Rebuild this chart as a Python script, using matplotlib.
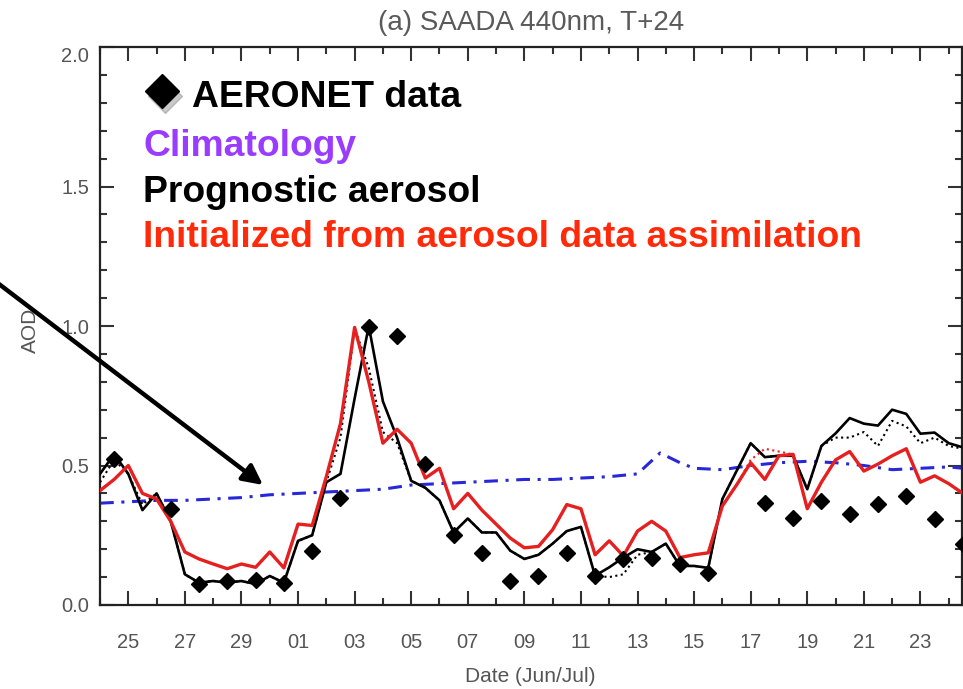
import matplotlib
matplotlib.use("Agg")
import matplotlib.pyplot as plt
from matplotlib.lines import Line2D
from matplotlib.ticker import MultipleLocator, FixedLocator

plt.rcParams['font.family'] = ['Liberation Sans', 'DejaVu Sans']

# ---- data (x in days since 24 Jun 00 UTC) ----
model_days = [0.0, 0.5, 1.0, 1.5, 2.0, 2.5, 3.0, 3.5, 4.0, 4.5, 5.0, 5.5, 6.0, 6.5,
              7.0, 7.5, 8.0, 8.5, 9.0, 9.5, 10.0, 10.5, 11.0, 11.5, 12.0, 12.5,
              13.0, 13.5, 14.0, 14.5, 15.0, 15.5, 16.0, 16.5, 17.0, 17.5, 18.0,
              18.5, 19.0, 19.5, 20.0, 20.5, 21.0, 21.5, 22.0, 22.5, 23.0, 23.5,
              24.0, 24.5, 25.0, 25.5, 26.0, 26.5, 27.0, 27.5, 28.0, 28.5, 29.0,
              29.5, 30.0, 30.5]

initialized = [0.41, 0.45, 0.50, 0.40, 0.38, 0.30, 0.19, 0.165, 0.147, 0.13, 0.147, 0.135,
               0.19, 0.133, 0.29, 0.285, 0.46, 0.65, 0.995, 0.80, 0.58, 0.63, 0.58, 0.455,
               0.49, 0.345, 0.40, 0.34, 0.29, 0.24, 0.205, 0.21, 0.27, 0.36, 0.345, 0.18,
               0.23, 0.176, 0.265, 0.30, 0.265, 0.17, 0.18, 0.187, 0.355, 0.43, 0.51, 0.45,
               0.535, 0.54, 0.345, 0.44, 0.52, 0.55, 0.48, 0.505, 0.535, 0.56, 0.44, 0.463,
               0.435, 0.40]

initialized_dotted = [0.41, 0.45, 0.50, 0.40, 0.38, 0.30, 0.19, 0.165, 0.147, 0.13, 0.147, 0.135,
                      0.19, 0.133, 0.29, 0.285, 0.46, 0.65, 0.99, 0.80, 0.58, 0.63, 0.58, 0.455,
                      0.49, 0.345, 0.40, 0.34, 0.29, 0.24, 0.205, 0.21, 0.27, 0.36, 0.345, 0.18,
                      0.23, 0.176, 0.265, 0.30, 0.265, 0.17, 0.18, 0.187, 0.355, 0.43, 0.52, 0.56,
                      0.55, 0.54, 0.345, 0.44, 0.52, 0.55, 0.48, 0.505, 0.535, 0.56, 0.44, 0.463,
                      0.435, 0.40]

prognostic = [0.47, 0.54, 0.47, 0.34, 0.40, 0.30, 0.11, 0.08, 0.086, 0.08, 0.086, 0.075,
              0.104, 0.08, 0.23, 0.25, 0.44, 0.47, 0.74, 1.00, 0.73, 0.60, 0.445, 0.42,
              0.375, 0.26, 0.31, 0.26, 0.26, 0.195, 0.165, 0.18, 0.22, 0.265, 0.28, 0.105,
              0.135, 0.17, 0.20, 0.19, 0.22, 0.14, 0.14, 0.133, 0.38, 0.48, 0.58, 0.53,
              0.535, 0.535, 0.415, 0.57, 0.615, 0.67, 0.65, 0.643, 0.70, 0.685, 0.614, 0.618,
              0.58, 0.565]

prognostic_dotted = [0.44, 0.52, 0.47, 0.36, 0.40, 0.30, 0.11, 0.08, 0.086, 0.08, 0.086, 0.075,
                     0.104, 0.08, 0.23, 0.25, 0.44, 0.60, 0.99, 0.85, 0.62, 0.58, 0.445, 0.42,
                     0.375, 0.26, 0.31, 0.26, 0.26, 0.195, 0.165, 0.18, 0.22, 0.265, 0.28, 0.105,
                     0.10, 0.11, 0.18, 0.19, 0.22, 0.14, 0.14, 0.133, 0.38, 0.48, 0.58, 0.53,
                     0.535, 0.535, 0.415, 0.57, 0.60, 0.60, 0.62, 0.57, 0.66, 0.64, 0.58, 0.60,
                     0.57, 0.56]

clim_days = [0, 1, 2, 3, 4, 5, 6, 7, 8, 9, 10, 11, 12, 13, 14, 15, 16, 17, 18, 19,
             19.8, 20.5, 21, 22, 23, 24, 25, 26, 27, 28, 29, 30, 30.5]
climatology = [0.365, 0.37, 0.375, 0.375, 0.38, 0.385, 0.395, 0.40, 0.405, 0.41, 0.415,
               0.43, 0.435, 0.44, 0.445, 0.45, 0.45, 0.455, 0.46, 0.47, 0.545, 0.51, 0.49,
               0.485, 0.50, 0.51, 0.515, 0.51, 0.50, 0.485, 0.49, 0.495, 0.49]

aeronet_days = [0.5, 2.5, 3.5, 4.5, 5.5, 6.5, 7.5, 8.5, 9.5, 10.5, 11.5, 12.5, 13.5, 14.5,
                15.5, 16.5, 17.5, 18.5, 19.5, 20.5, 21.5, 23.5, 24.5, 25.5, 26.5, 27.5,
                28.5, 29.5, 30.5]
aeronet = [0.525, 0.345, 0.075, 0.086, 0.09, 0.08, 0.195, 0.385, 0.995, 0.965, 0.505,
           0.25, 0.187, 0.086, 0.104, 0.185, 0.104, 0.165, 0.17, 0.147, 0.115, 0.366,
           0.312, 0.373, 0.326, 0.363, 0.39, 0.31, 0.22]

tick_days = [1, 3, 5, 7, 9, 11, 13, 15, 17, 19, 21, 23, 25, 27, 29]
tick_labels = ['25', '27', '29', '01', '03', '05', '07', '09', '11', '13', '15', '17',
               '19', '21', '23']

# ---- figure ----
W, H = 963, 689
fig = plt.figure(figsize=(W / 100, H / 100), dpi=100)
ax = fig.add_axes([100 / W, 84 / H, 862 / W, 558 / H])

ax.plot(clim_days, climatology, color='#2828d8', lw=2.2, dashes=(4.5, 2.5, 1, 2.5), zorder=2)
ax.plot(model_days, prognostic_dotted, color='black', lw=1.5, ls=':', zorder=3)
ax.plot(model_days, prognostic, color='black', lw=1.9, zorder=4)
ax.plot(model_days, initialized_dotted, color='#e62020', lw=1.5, ls=':', zorder=5)
ax.plot(model_days, initialized, color='#e62020', lw=2.4, zorder=6)
ax.plot(aeronet_days, aeronet, ls='none', marker='D', ms=8, color='black', zorder=7)

ax.set_xlim(0, 30.47)
ax.set_ylim(0, 2.0)
ax.xaxis.set_major_locator(FixedLocator(tick_days))
ax.set_xticklabels(tick_labels)
ax.xaxis.set_minor_locator(MultipleLocator(2))
ax.yaxis.set_major_locator(FixedLocator([0.0, 0.5, 1.0, 1.5, 2.0]))
ax.yaxis.set_minor_locator(MultipleLocator(0.1))
ax.yaxis.set_major_formatter(plt.FormatStrFormatter('%.1f'))

for s in ax.spines.values():
    s.set_linewidth(1.6)
    s.set_color('#222222')

ax.tick_params(which='both', direction='in', top=True, right=True, color='#333333',
               width=1.5, labelcolor='#555555', labelsize=14.5)
ax.tick_params(which='major', length=10)
ax.tick_params(which='minor', length=5)
ax.tick_params(axis='x', pad=20)
ax.tick_params(axis='y', pad=8)

ax.set_title('(a) SAADA 440nm, T+24', color='#5a5a5a', fontsize=20, pad=12)
ax.set_xlabel('Date (Jun/Jul)', color='#555555', fontsize=15)
ax.set_ylabel('AOD', color='#555555', fontsize=15)
ax.xaxis.set_label_coords(0.499, -0.111)
ax.yaxis.set_label_coords(-0.070, 0.493)

# ---- in-plot legend texts ----
def fx(px):
    return px / W

def fy(py):
    return 1 - py / H

fig.add_artist(Line2D([fx(165)], [fy(96)], transform=fig.transFigure, marker='D', ms=17,
                      color='#888888', alpha=0.45, ls='none'))
fig.add_artist(Line2D([fx(162)], [fy(91)], transform=fig.transFigure, marker='D', ms=17,
                      color='black', ls='none'))
fs = 26.8
fig.text(fx(192), fy(107), 'AERONET data', color='black', fontsize=fs, fontweight='bold',
         va='baseline')
fig.text(fx(143), fy(156), 'Climatology', color='#9a3cff', fontsize=fs, fontweight='bold',
         va='baseline')
fig.text(fx(143), fy(202), 'Prognostic aerosol', color='black', fontsize=fs,
         fontweight='bold', va='baseline')
fig.text(fx(143), fy(247), 'Initialized from aerosol data assimilation', color='#ff2a0a',
         fontsize=fs, fontweight='bold', va='baseline')

# ---- arrow ----
ax.annotate('', xy=(263, H - 485), xycoords='figure pixels',
            xytext=(-5, H - 281), textcoords='figure pixels',
            arrowprops=dict(arrowstyle='-|>', color='black', lw=3.2, mutation_scale=30,
                            shrinkA=0, shrinkB=0),
            annotation_clip=False)

# top tick label sits just below the top spine, as in the original
fig.canvas.draw()
for t in ax.yaxis.get_major_ticks():
    if abs(t.get_loc() - 2.0) < 1e-6:
        t.label1.set_verticalalignment('top')

fig.savefig('out.png', dpi=100)
